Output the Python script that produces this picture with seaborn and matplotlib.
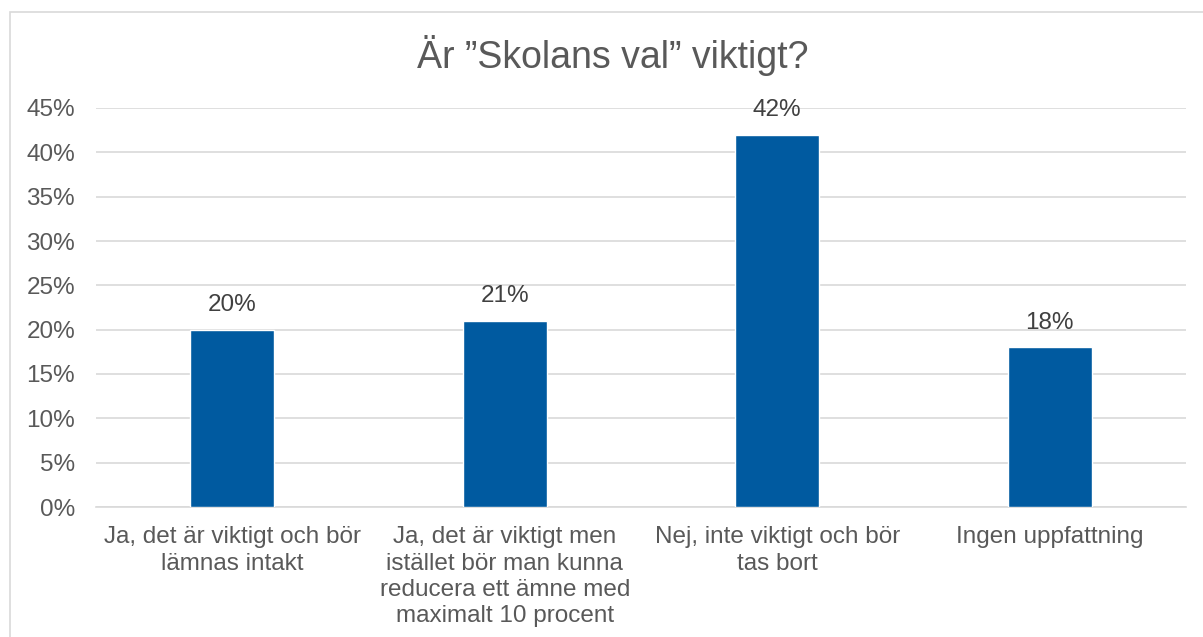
import matplotlib.pyplot as plt
import seaborn as sns
import pandas as pd
from matplotlib.patches import Rectangle
from matplotlib.ticker import PercentFormatter

# data
kategorier = ['Ja, det är viktigt och bör\nlämnas intakt',
              'Ja, det är viktigt men\nistället bör man kunna\nreducera ett ämne med\nmaximalt 10 procent',
              'Nej, inte viktigt och bör\ntas bort',
              'Ingen uppfattning']
andelar = [0.20, 0.21, 0.42, 0.18]
etiketter = ['20%', '21%', '42%', '18%']
y_ticks = [0, 0.05, 0.10, 0.15, 0.20, 0.25, 0.30, 0.35, 0.40, 0.45]

df = pd.DataFrame({'kategori': kategorier, 'andel': andelar})

sns.set_style('white')
plt.rcParams['font.family'] = ['Liberation Sans', 'DejaVu Sans']
text_color = '#595959'
grid_color = '#d9d9d9'

fig = plt.figure(figsize=(12.03, 6.37), dpi=100)
W, H = 1203, 637
ax = fig.add_axes([96 / W, 1 - 507 / H, (1186 - 96) / W, (507 - 108) / H])

sns.barplot(data=df, x='kategori', y='andel', color='#005AA0', width=0.31,
            saturation=1, ax=ax, zorder=3)

ax.set_ylim(0, 0.45)
ax.set_yticks(y_ticks)
ax.yaxis.set_major_formatter(PercentFormatter(1.0, decimals=0))
ax.grid(axis='y', color=grid_color, linewidth=1.2, zorder=0)
ax.set_axisbelow(True)
for s in ['top', 'right', 'left']:
    ax.spines[s].set_visible(False)
ax.spines['bottom'].set_color(grid_color)
ax.spines['bottom'].set_linewidth(1.2)
ax.tick_params(axis='y', length=0, pad=15, labelsize=17.5, labelcolor=text_color)
ax.tick_params(axis='x', length=0, pad=14, labelsize=17.5, labelcolor=text_color)
for lbl in ax.get_xticklabels():
    lbl.set_linespacing(1.24)
ax.set_xlabel('')
ax.set_ylabel('')

# värden ovanför staplarna
for i, (v, t) in enumerate(zip(andelar, etiketter)):
    ax.annotate(t, (i, v), xytext=(0, 10), textcoords='offset points',
                ha='center', va='bottom', fontsize=17.5, color='#404040')

fig.text(613 / W, 1 - 55 / H, 'Är ”Skolans val” viktigt?', ha='center', va='center',
         fontsize=27, color=text_color)

# ram runt diagrammet
fig.patches.append(Rectangle((10 / W, -0.1), 1.2, 1.1 - 12 / H, transform=fig.transFigure,
                             fill=False, edgecolor=grid_color, linewidth=1.2))

fig.savefig('out.png', dpi=100)
